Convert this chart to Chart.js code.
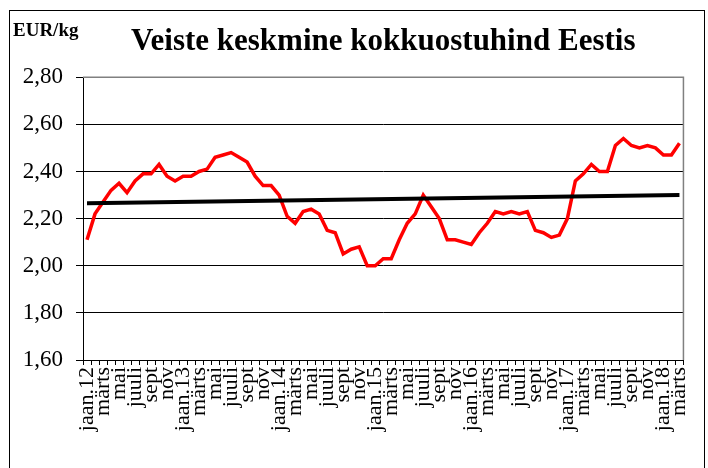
<!DOCTYPE html>
<html>
<head>
<meta charset="utf-8">
<script src="https://cdn.jsdelivr.net/npm/chart.js@4/dist/chart.umd.min.js"></script>
<style>
html,body{margin:0;padding:0;background:#fff;}
#wrap{width:708px;height:468px;position:relative;}
</style>
</head>
<body>
<div id="wrap"><canvas id="c" width="708" height="468"></canvas></div>
<script>
// Category (tick) labels: monthly, every second month labelled
const tickLabels = [
 'jaan.12','','märts','','mai','','juuli','','sept','','nov','',
 'jaan.13','','märts','','mai','','juuli','','sept','','nov','',
 'jaan.14','','märts','','mai','','juuli','','sept','','nov','',
 'jaan.15','','märts','','mai','','juuli','','sept','','nov','',
 'jaan.16','','märts','','mai','','juuli','','sept','','nov','',
 'jaan.17','','märts','','mai','','juuli','','sept','','nov','',
 'jaan.18','','märts'
];
// Average purchase price of cattle, EUR/kg
const priceValues = [
 2.11,2.22,2.27,2.32,2.35,2.31,2.36,2.39,2.39,2.43,2.38,2.36,
 2.38,2.38,2.40,2.41,2.46,2.47,2.48,2.46,2.44,2.38,2.34,2.34,
 2.30,2.21,2.18,2.23,2.24,2.22,2.15,2.14,2.05,2.07,2.08,2.00,
 2.00,2.03,2.03,2.11,2.18,2.22,2.30,2.25,2.20,2.11,2.11,2.10,
 2.09,2.14,2.18,2.23,2.22,2.23,2.22,2.23,2.15,2.14,2.12,2.13,
 2.20,2.36,2.39,2.43,2.40,2.40,2.51,2.54,2.51,2.50,2.51,2.50,
 2.47,2.47,2.52
];
// Linear trend line end values
const trendStart = 2.265;
const trendEnd = 2.30;
const yTicks = [1.6, 1.8, 2.0, 2.2, 2.4, 2.6, 2.8];

const trendValues = tickLabels.map((_, i) => i === 0 ? trendStart : (i === tickLabels.length - 1 ? trendEnd : null));

Chart.defaults.font.family = "'Liberation Serif', 'Times New Roman', serif";
Chart.defaults.color = '#000';

const framePlugin = {
  id: 'frame',
  beforeDraw(chart) {
    const ctx = chart.ctx;
    ctx.save();
    ctx.fillStyle = '#fff';
    ctx.fillRect(0, 0, chart.width, chart.height);
    ctx.strokeStyle = '#000';
    ctx.lineWidth = 1;
    ctx.strokeRect(9.5, 10.5, 695, 480);
    ctx.restore();
  },
  beforeDatasetsDraw(chart) {
    const a = chart.chartArea, ctx = chart.ctx;
    ctx.save();
    ctx.strokeStyle = '#808080';
    ctx.lineWidth = 1.5;
    ctx.beginPath();
    ctx.moveTo(a.left, a.top);
    ctx.lineTo(a.right, a.top);
    ctx.lineTo(a.right, a.bottom);
    ctx.stroke();
    ctx.restore();
  },
  afterDraw(chart) {
    const ctx = chart.ctx;
    ctx.save();
    ctx.fillStyle = '#000';
    ctx.font = "bold 19px 'Liberation Serif', serif";
    ctx.textAlign = 'left';
    ctx.textBaseline = 'alphabetic';
    ctx.fillText('EUR/kg', 13, 36);
    ctx.restore();
  }
};

new Chart(document.getElementById('c'), {
  type: 'line',
  data: {
    labels: tickLabels,
    datasets: [
      {
        label: 'Hind',
        data: priceValues,
        borderColor: '#ff0000',
        borderWidth: 3.5,
        pointRadius: 0,
        tension: 0,
        fill: false,
        order: 2
      },
      {
        label: 'Trend',
        data: trendValues,
        borderColor: '#000',
        borderWidth: 4,
        pointRadius: 0,
        spanGaps: true,
        tension: 0,
        fill: false,
        order: 1
      }
    ]
  },
  options: {
    responsive: false,
    animation: false,
    layout: { padding: { left: 12, right: 17, top: 22, bottom: 0 } },
    plugins: {
      legend: { display: false },
      tooltip: { enabled: false },
      title: {
        display: true,
        fullSize: false,
        text: 'Veiste keskmine kokkuostuhind Eestis',
        font: { size: 31, weight: 'bold' },
        color: '#000',
        padding: { top: 1, bottom: 17 }
      }
    },
    scales: {
      x: {
        type: 'category',
        offset: true,
        afterFit(scale) { scale.height = 108; },
        border: { color: '#000', width: 1 },
        grid: {
          offset: true,
          drawOnChartArea: false,
          drawTicks: true,
          tickLength: 5,
          color: '#000'
        },
        ticks: {
          autoSkip: false,
          maxRotation: 90,
          minRotation: 90,
          padding: 2,
          font: { size: 22 },
          color: '#000'
        }
      },
      y: {
        min: 1.6,
        max: 2.8,
        afterFit(scale) { scale.width = 71; },
        afterBuildTicks(scale) { scale.ticks = yTicks.map(v => ({ value: v })); },
        border: { color: '#000', width: 1 },
        grid: { color: '#000', lineWidth: 1, tickLength: 7 },
        ticks: {
          padding: 13,
          font: { size: 23 },
          color: '#000',
          callback: v => Number(v).toFixed(2).replace('.', ',')
        }
      }
    }
  },
  plugins: [framePlugin]
});
</script>
</body>
</html>
